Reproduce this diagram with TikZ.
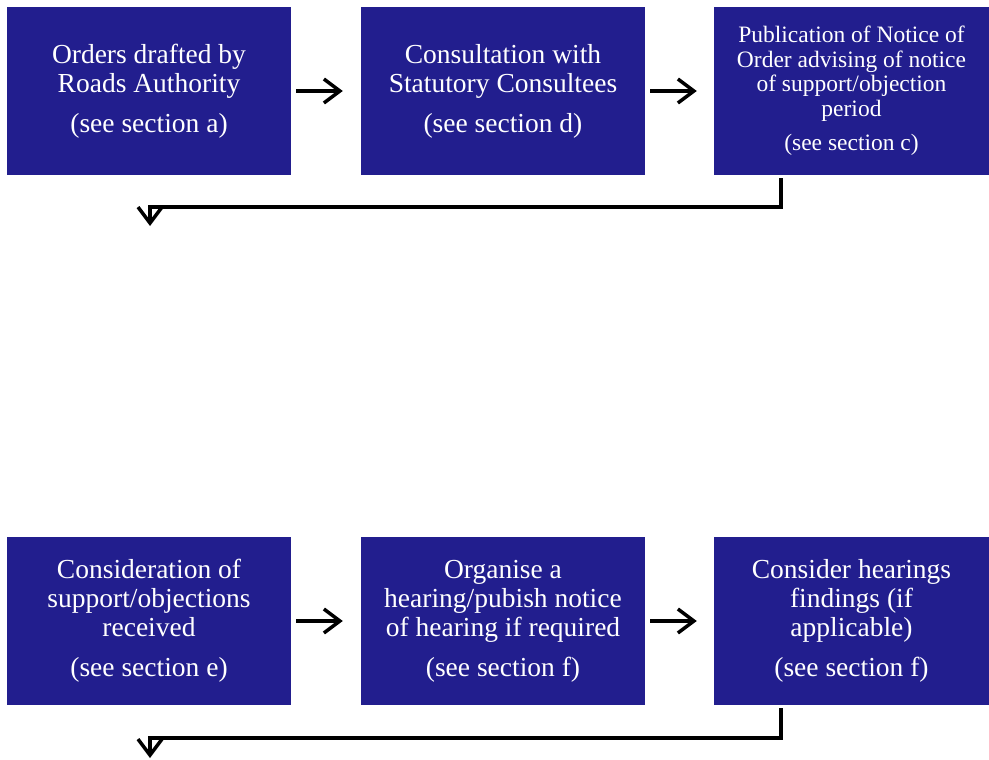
\documentclass[tikz,border=0pt]{standalone}
\usepackage{fontspec}
\setmainfont{Liberation Serif}
\usepackage{tikz}
\usetikzlibrary{arrows.meta}
\definecolor{orderblue}{RGB}{34,30,142}
\tikzset{stagebox/.style={fill=orderblue,text=white,align=center,inner sep=0pt,
    minimum width=284pt,minimum height=168pt,font=\fontsize{27.5}{29}\selectfont}}
\tikzset{flowarrow/.style={line width=3.5pt,miter limit=10,-{Straight Barb[length=16pt,width=24pt]}}}

\begin{document}
\begin{tikzpicture}[x=1pt,y=-1pt]
    \useasboundingbox (0,0) rectangle (989,760);
    % top row
    \node[stagebox] (draft) at (149,91) {Orders drafted by\\Roads Authority\\[11pt](see section a)};
    \node[stagebox] (consult) at (503,91) {Consultation with\\Statutory Consultees\\[11pt](see section d)};
    \node[stagebox,minimum width=275pt,font=\fontsize{23.5}{24.5}\selectfont] (publish) at (851.5,91) {Publication of Notice of\\Order advising of notice\\of support/objection\\period\\[10pt](see section c)};
    \draw[flowarrow] ([xshift=5pt]draft.east) -- ([xshift=-18pt]consult.west);
    \draw[flowarrow] ([xshift=5pt]consult.east) -- ([xshift=-17pt]publish.west);
    \coordinate (topturn) at (150,226);
    \draw[flowarrow] ([xshift=-70.5pt,yshift=-3pt]publish.south) -- ++(0,29) -| (topturn);
    % bottom row
    \node[stagebox] (consider) at (149,621) {Consideration of\\support/objections\\received\\[11pt](see section e)};
    \node[stagebox] (hearing) at (503,621) {Organise a\\hearing/pubish notice\\of hearing if required\\[11pt](see section f)};
    \node[stagebox,minimum width=275pt] (findings) at (851.5,621) {Consider hearings\\findings (if\\applicable)\\[11pt](see section f)};
    \draw[flowarrow] ([xshift=5pt]consider.east) -- ([xshift=-18pt]hearing.west);
    \draw[flowarrow] ([xshift=5pt]hearing.east) -- ([xshift=-17pt]findings.west);
    \coordinate (botturn) at (150,758);
    \draw[flowarrow] ([xshift=-70.5pt,yshift=-3pt]findings.south) -- ++(0,30) -| (botturn);
\end{tikzpicture}
\end{document}
